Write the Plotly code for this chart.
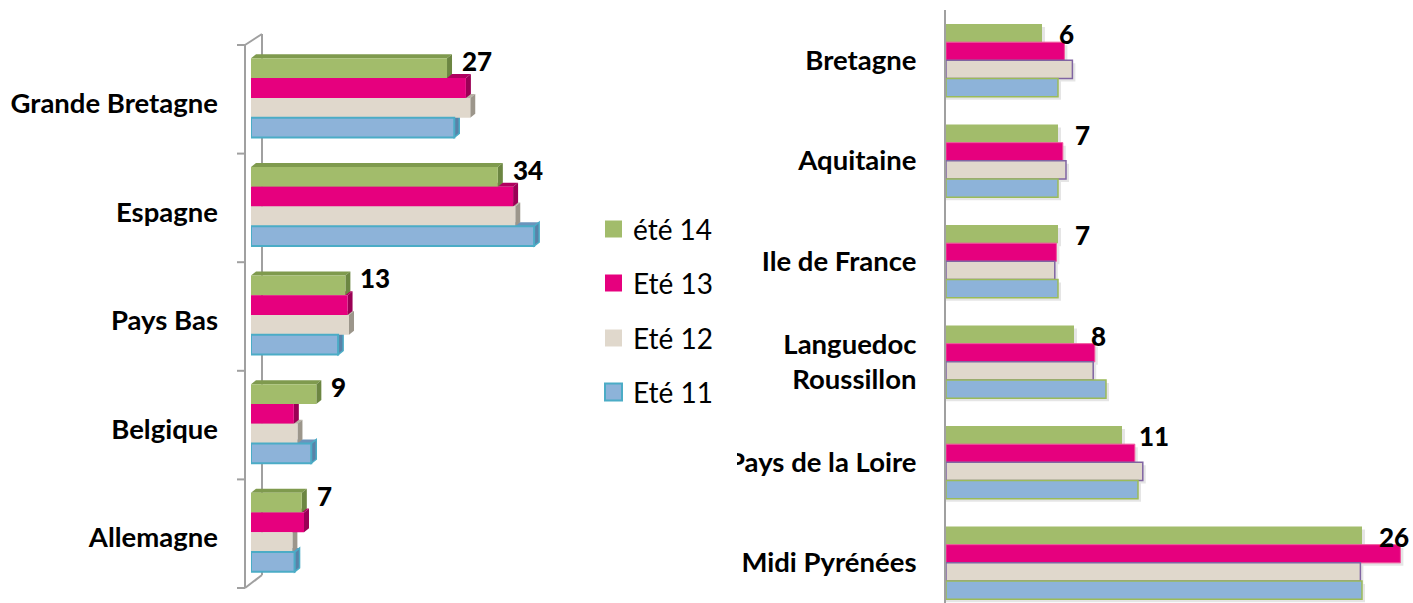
import plotly.graph_objects as go

# ---------------- data ----------------
series_names = ["été 14", "Eté 13", "Eté 12", "Eté 11"]

left_categories = ["Grande Bretagne", "Espagne", "Pays Bas", "Belgique", "Allemagne"]
left_ete14 = [27, 34, 13, 9, 7]
left_ete13 = [29.6, 36.1, 13.3, 5.9, 7.3]
left_ete12 = [30.2, 36.4, 13.5, 6.4, 5.7]
left_ete11 = [28.0, 39.0, 12.0, 8.3, 6.0]

right_categories = ["Bretagne", "Aquitaine", "Ile de France",
                    "Languedoc<br>Roussillon", "Pays de la Loire", "Midi Pyrénées"]
right_ete14 = [6, 7, 7, 8, 11, 26]
right_ete13 = [7.4, 7.3, 6.9, 9.3, 11.8, 28.4]
right_ete12 = [7.9, 7.5, 6.8, 9.2, 12.3, 25.9]
right_ete11 = [7.0, 7.0, 7.0, 10.0, 12.0, 26.0]

# ---------------- styling ----------------
W, H = 1413, 603
FONT = "Lato"

front = ["#A2BC6B", "#E6007E", "#E0D8CC", "#8DB3D9"]
top_face = ["#7F9A4E", "#B0005F", "#B9B2A6", "#6B94BC"]
side_face = ["#6C8642", "#9A0055", "#9C968B", "#5A82A8"]

# left panel geometry (pixels)
L_X0, L_X1, L_XMAX = 251, 541.4, 40
L_Y0, L_Y1 = 45, 588
# right panel geometry (pixels)
R_X0, R_XMAX, R_PPU = 946, 29, 16.0
R_X1 = R_X0 + R_XMAX * R_PPU
R_Y0, R_Y1 = 10, 603
R_BAND = 100.5

def px(x):
    return x / W

def py(y):
    return 1 - y / H

fig = go.Figure()

# ---------------- left panel: 3D-look bars ----------------
l_series = [left_ete14, left_ete13, left_ete12, left_ete11]
l_ppu_x = (L_X1 - L_X0) / L_XMAX
l_ppu_y = (L_Y1 - L_Y0) / len(left_categories)
l_width = 0.182
l_offsets = [-0.377, -0.195, -0.013, 0.169]
depth_dx = 5 / l_ppu_x
depth_dy = 4 / l_ppu_y
l_pos = list(range(len(left_categories)))

shapes = []
# faces drawn bottom bar first so upper bars overlap correctly
for s in [3, 2, 1, 0]:
    vals = l_series[s]
    line_col = "#4BACC6" if s == 3 else side_face[s]
    for i, v in enumerate(vals):
        y0 = l_pos[i] + l_offsets[s]
        y1 = y0 + l_width
        top = (f"M 0,{y0} L {v},{y0} L {v + depth_dx},{y0 - depth_dy} "
               f"L {depth_dx},{y0 - depth_dy} Z")
        side = (f"M {v},{y0} L {v + depth_dx},{y0 - depth_dy} "
                f"L {v + depth_dx},{y1 - depth_dy} L {v},{y1} Z")
        shapes.append(dict(type="path", path=top, xref="x", yref="y",
                           fillcolor=top_face[s], line=dict(width=0), layer="below"))
        shapes.append(dict(type="path", path=side, xref="x", yref="y",
                           fillcolor=side_face[s],
                           line=dict(width=1.5 if s == 3 else 0, color=line_col),
                           layer="below"))

for s in range(4):
    fig.add_trace(go.Bar(
        x=l_series[s], y=l_pos, orientation="h",
        width=l_width, offset=l_offsets[s],
        marker=dict(color=front[s],
                    line=dict(color="#4BACC6" if s == 3 else front[s],
                              width=2 if s == 3 else 0)),
        name=series_names[s], showlegend=False,
        xaxis="x", yaxis="y", hoverinfo="x+y",
    ))

# 3D wall of the left value axis
wall_col = "#A0A0A0"
wall_dx, wall_dy = 17, 11
shapes += [
    dict(type="line", xref="paper", yref="paper", x0=px(245), x1=px(245),
         y0=py(L_Y0), y1=py(L_Y1), line=dict(color=wall_col, width=2), layer="below"),
    dict(type="line", xref="paper", yref="paper", x0=px(245 + wall_dx), x1=px(245 + wall_dx),
         y0=py(L_Y0 - wall_dy), y1=py(L_Y1 - 13), line=dict(color=wall_col, width=2), layer="below"),
    dict(type="line", xref="paper", yref="paper", x0=px(245), x1=px(245 + wall_dx),
         y0=py(L_Y0), y1=py(L_Y0 - wall_dy), line=dict(color=wall_col, width=2), layer="below"),
    dict(type="line", xref="paper", yref="paper", x0=px(245), x1=px(245 + wall_dx),
         y0=py(L_Y1), y1=py(L_Y1 - 13), line=dict(color=wall_col, width=2), layer="below"),
]
for k in range(len(left_categories) + 1):
    yk = L_Y0 + k * l_ppu_y
    shapes.append(dict(type="line", xref="paper", yref="paper", x0=px(237), x1=px(245),
                       y0=py(yk), y1=py(yk), line=dict(color=wall_col, width=2), layer="below"))

# ---------------- right panel: flat bars ----------------
r_series = [right_ete14, right_ete13, right_ete12, right_ete11]
r_width = 0.181
r_offsets = [-0.361, -0.18, 0.001, 0.182]
r_pos = list(range(len(right_categories)))
r_borders = [("#A2BC6B", 0), ("#F0559C", 1), ("#8064A2", 1.5), ("#9BBB59", 1.5)]

# soft drop shadow under each bar
sh_dx, sh_dy = 3 / R_PPU, 3 / R_BAND
for s in range(4):
    for i, v in enumerate(r_series[s]):
        y0 = r_pos[i] + r_offsets[s]
        shapes.append(dict(type="rect", xref="x2", yref="y2", x0=0, x1=v + sh_dx,
                           y0=y0 + sh_dy, y1=y0 + r_width + sh_dy,
                           fillcolor="rgba(0,0,0,0.10)", line=dict(width=0), layer="below"))

for s in range(4):
    fig.add_trace(go.Bar(
        x=r_series[s], y=r_pos, orientation="h",
        width=r_width, offset=r_offsets[s],
        marker=dict(color=front[s], line=dict(color=r_borders[s][0], width=r_borders[s][1])),
        name=series_names[s], showlegend=False,
        xaxis="x2", yaxis="y2", hoverinfo="x+y",
    ))

# ---------------- value labels ----------------
value_font = dict(family=FONT, size=26, color="black", weight=900)
annotations = []
for i, v in enumerate(left_ete14):
    annotations.append(dict(x=v, y=l_pos[i] + l_offsets[0] + l_width / 2,
                            xref="x", yref="y", text=f"{v}", showarrow=False,
                            xanchor="left", yanchor="middle", xshift=13, yshift=7,
                            font=value_font))
for i, v in enumerate(right_ete14):
    annotations.append(dict(x=v, y=r_pos[i] + r_offsets[0] + r_width / 2,
                            xref="x2", yref="y2", text=f"{v}", showarrow=False,
                            xanchor="left", yanchor="middle", xshift=15, yshift=-1,
                            font=value_font))

# ---------------- legend ----------------
leg_y = [229, 283, 338, 392]
for s in range(4):
    shapes.append(dict(type="rect", xref="paper", yref="paper",
                       x0=px(605), x1=px(622), y0=py(leg_y[s] - 8.5), y1=py(leg_y[s] + 8.5),
                       fillcolor=front[s],
                       line=dict(color="#4BACC6" if s == 3 else front[s], width=2 if s == 3 else 0)))
    annotations.append(dict(x=px(631), y=py(leg_y[s]), xref="paper", yref="paper",
                            text=series_names[s], showarrow=False,
                            xanchor="left", yanchor="middle",
                            font=dict(family=FONT, size=28, color="black")))

# the long region name runs past the left edge of its label area
shapes.append(dict(type="rect", xref="paper", yref="paper", x0=px(690), x1=px(737),
                   y0=py(480), y1=py(440), fillcolor="white", line=dict(width=0), layer="above"))

tick_font = dict(family=FONT, size=27.5, color="black", weight="bold")
fig.update_layout(
    width=W, height=H,
    margin=dict(l=0, r=0, t=0, b=0),
    paper_bgcolor="white", plot_bgcolor="rgba(0,0,0,0)",
    barmode="overlay",
    showlegend=False,
    xaxis=dict(domain=[px(L_X0), px(L_X1)], range=[0, L_XMAX], visible=False, fixedrange=True),
    yaxis=dict(domain=[py(L_Y1), py(L_Y0)], range=[len(left_categories) - 0.5, -0.5],
               tickmode="array", tickvals=l_pos, ticktext=left_categories,
               tickfont=tick_font, showline=False, showgrid=False, zeroline=False,
               ticks="", ticklabelstandoff=32, ticklabelshift=-4, fixedrange=True),
    xaxis2=dict(domain=[px(R_X0), px(R_X1)], range=[0, R_XMAX], visible=False,
                anchor="y2", fixedrange=True),
    yaxis2=dict(domain=[py(R_Y1), py(R_Y0)],
                range=[-0.5 + (R_Y1 - R_Y0) / R_BAND, -0.5],
                anchor="x2", tickmode="array", tickvals=r_pos, ticktext=right_categories,
                tickfont=tick_font, showline=True, linecolor="#A0A0A0", linewidth=2,
                showgrid=False, zeroline=False, ticks="", ticklabelstandoff=22,
                fixedrange=True),
    shapes=shapes,
    annotations=annotations,
)

fig.write_html("out.html")
